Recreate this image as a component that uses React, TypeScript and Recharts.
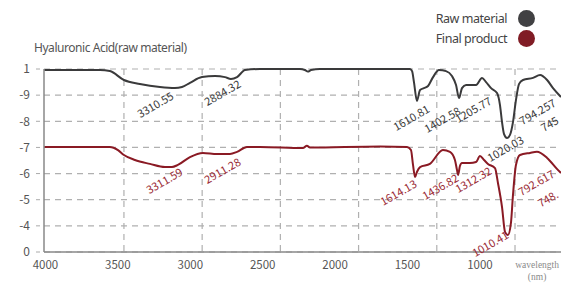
import React from "react";
import { LineChart, Line, XAxis, YAxis, CartesianGrid, ReferenceDot } from "recharts";

// wavenumber (w) and relative transmittance (v, plotted on the 0..7 band scale)
const rawW = [4010, 3653, 3590, 3500, 3398, 3270, 3174, 3129, 3078, 3001, 2918, 2854, 2816, 2777, 2726, 2630, 2375, 2343, 2324, 2304, 2247, 1863, 1671, 1658, 1646, 1627, 1607, 1582, 1556, 1524, 1486, 1441, 1403, 1377, 1358, 1339, 1313, 1249, 1211, 1185, 1153, 1115, 1096, 1083, 1070, 1051, 1032, 1013, 994, 974, 949, 885, 840, 795, 757, 706];
const rawV = [6.96, 6.96, 6.92, 6.58, 6.43, 6.31, 6.27, 6.31, 6.47, 6.69, 6.73, 6.69, 6.62, 6.69, 6.96, 7.0, 7.0, 6.96, 6.9, 6.96, 7.0, 7.0, 7.0, 6.92, 6.5, 5.78, 6.2, 6.27, 6.35, 6.69, 6.96, 6.92, 6.73, 6.39, 5.89, 6.27, 6.39, 6.39, 6.66, 6.5, 6.27, 6.08, 5.62, 4.97, 4.51, 4.36, 4.48, 4.97, 5.81, 6.43, 6.58, 6.66, 6.77, 6.58, 6.27, 5.93];

const finalW = [4010, 3590, 3538, 3500, 3430, 3334, 3238, 3193, 3155, 3078, 2995, 2905, 2822, 2777, 2714, 2630, 2356, 2330, 2311, 1863, 1690, 1665, 1652, 1639, 1627, 1607, 1544, 1461, 1416, 1384, 1371, 1364, 1352, 1339, 1288, 1249, 1224, 1198, 1173, 1128, 1109, 1083, 1064, 1045, 1026, 1013, 994, 968, 904, 860, 795, 732, 706];
const finalV = [4.02, 4.02, 3.9, 3.71, 3.52, 3.37, 3.25, 3.25, 3.33, 3.63, 3.79, 3.75, 3.75, 3.83, 4.02, 4.02, 3.98, 4.06, 4.0, 4.04, 4.02, 3.9, 3.33, 2.87, 3.06, 3.25, 3.37, 3.9, 3.83, 3.52, 3.14, 2.95, 3.29, 3.4, 3.4, 3.44, 3.67, 3.52, 3.37, 3.21, 2.64, 1.72, 0.77, 0.65, 1.11, 2.18, 3.33, 3.71, 3.79, 3.83, 3.6, 3.18, 3.02];

const xTickLabels = [4000, 3500, 3000, 2500, 2000, 1500, 1000];
const xGridTicks = [3500, 3000, 2500, 2000, 1500, 1000];
const yTickValues = [0, 1, 2, 3, 4, 5, 6, 7];
const yTickLabels = ["0", "-4", "-5", "-6", "-7", "-8", "-9", "1"];

const rawPeakText = ["3310.55", "2884.32", "1610.81", "1402.58", "1205.77", "1020.03", "794.257", "745"];
const rawPeakW = [3302, 2873, 1665, 1467, 1269, 1064, 859, 782];
const rawPeakV = [5.66, 6.12, 5.16, 5.09, 5.47, 3.98, 5.39, 4.93];

const finalPeakText = ["3311.59", "2911.28", "1614.13", "1436.82", "1312.32", "1010.41", "792.617", "748."];
const finalPeakW = [3244, 2873, 1748, 1480, 1269, 1160, 866, 792];
const finalPeakV = [2.75, 3.14, 2.3, 2.52, 2.79, 0.34, 2.68, 2.07];

const seriesNames = ["Raw material", "Final product"];
const title = "Hyaluronic Acid(raw material)";
const xAxisTitle = ["wavelength", "(nm)"];

const RAW = "#3a3a3b";
const FINAL = "#8a1a24";
const FONT = "'Noto Sans CJK KR', 'Noto Sans', sans-serif";
const LABEL_FONT = "'Noto Sans', 'Open Sans', sans-serif";

const rawData = rawW.map((w, i) => ({ w, v: rawV[i] }));
const finalData = finalW.map((w, i) => ({ w, v: finalV[i] }));

const peakShape = (text: string, color: string) => (p: any) => (
  <text
    x={p.cx}
    y={p.cy}
    transform={`rotate(-30, ${p.cx}, ${p.cy})`}
    textAnchor="middle"
    dominantBaseline="central"
    fontSize={11}
    fontFamily={FONT}
    fill={color}
  >
    {text}
  </text>
);

export default function App() {
  return (
    <div style={{ position: "absolute", left: 0, top: 0, width: 561, height: 284, fontFamily: LABEL_FONT }}>
      <LineChart width={561} height={284} margin={{ top: 69, right: 0, bottom: 8, left: 0 }}>
        <CartesianGrid xAxisId="grid" stroke="#b0b0b0" strokeDasharray="6 5" strokeWidth={1.2} verticalValues={xGridTicks} />
        <XAxis
          xAxisId="axis"
          dataKey="w"
          type="number"
          domain={[440, 4010]}
          reversed
          ticks={xTickLabels}
          allowDataOverflow
          height={24}
          axisLine={{ stroke: "#888", strokeWidth: 1.5 }}
          tickLine={false}
          tickMargin={3}
          tick={{ fontSize: 11.5, fill: "#555", fontFamily: FONT }}
          interval={0}
        />
        <XAxis
          xAxisId="grid"
          dataKey="w"
          type="number"
          domain={[706, 4011]}
          reversed
          ticks={xGridTicks}
          allowDataOverflow
          hide
          height={0}
        />
        <YAxis
          type="number"
          domain={[0, 7]}
          ticks={yTickValues}
          width={44}
          interval={0}
          axisLine={{ stroke: "#888", strokeWidth: 1.5 }}
          tickLine={{ stroke: "#aaa", strokeDasharray: "4 4" }}
          tickSize={8}
          tickMargin={6}
          tickFormatter={(v: number) => yTickLabels[yTickValues.indexOf(v)]}
          tick={{ fontSize: 12, fill: "#555", fontFamily: FONT }}
        />
        <Line
          xAxisId="grid"
          data={rawData}
          dataKey="v"
          type="monotone"
          stroke={RAW}
          strokeWidth={2}
          dot={false}
          isAnimationActive={false}
        />
        <Line
          xAxisId="grid"
          data={finalData}
          dataKey="v"
          type="monotone"
          stroke={FINAL}
          strokeWidth={2}
          dot={false}
          isAnimationActive={false}
        />
        {rawPeakText.map((t, i) => (
          <ReferenceDot
            key={"r" + i}
            xAxisId="grid"
            x={rawPeakW[i]}
            y={rawPeakV[i]}
            r={0}
            ifOverflow="visible"
            shape={peakShape(t, "#3a3a3a")}
          />
        ))}
        {finalPeakText.map((t, i) => (
          <ReferenceDot
            key={"f" + i}
            xAxisId="grid"
            x={finalPeakW[i]}
            y={finalPeakV[i]}
            r={0}
            ifOverflow="visible"
            shape={peakShape(t, "#9a2a34")}
          />
        ))}
      </LineChart>
      <div style={{ position: "absolute", left: 34, top: 39, fontSize: 12, letterSpacing: -0.45, lineHeight: "18px", color: "#555", whiteSpace: "nowrap" }}>{title}</div>
      {seriesNames.map((n, i) => (
        <div key={n} style={{ position: "absolute", right: 26, top: 9 + i * 20, height: 18, display: "flex", alignItems: "center", fontSize: 12.5, letterSpacing: -0.45, color: "#444", whiteSpace: "nowrap" }}>
          <span style={{ marginRight: 11 }}>{n}</span>
          <span style={{ width: 17, height: 17, borderRadius: 9, background: i === 0 ? "#414143" : "#801c25", display: "inline-block" }} />
        </div>
      ))}
      <div style={{ position: "absolute", right: 2, top: 259, textAlign: "center", fontSize: 9.5, lineHeight: "12px", color: "#8a8a8a", fontFamily: "'Liberation Serif', serif", whiteSpace: "nowrap" }}>
        {xAxisTitle[0]}
        <br />
        {xAxisTitle[1]}
      </div>
    </div>
  );
}
